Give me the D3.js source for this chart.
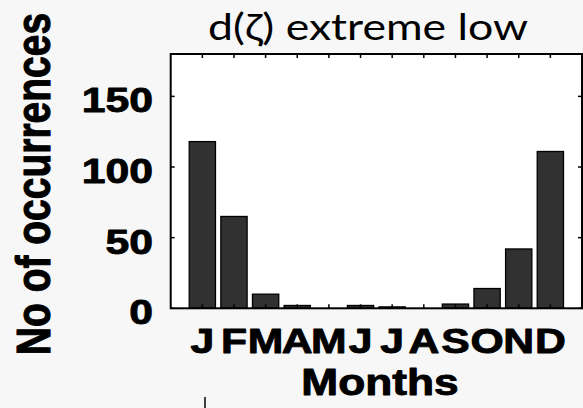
<!DOCTYPE html>
<html>
<head>
<meta charset="utf-8">
<script src="https://cdn.jsdelivr.net/npm/d3@7/dist/d3.min.js"></script>
<style>
  html, body { margin: 0; padding: 0; background: #f7f7f7; }
  svg { display: block; }
</style>
</head>
<body>
<svg id="chart" width="583" height="408"></svg>
<script>
// Monthly counts of extreme-low d(ζ) events
const months = ["J", "F", "M", "A", "M", "J", "J", "A", "S", "O", "N", "D"];
const counts = [118, 65, 10, 2, 0, 2, 1, 0, 3, 14, 42, 111];
const yTicks = [0, 50, 100, 150];
const titleText = "d(ζ) extreme low";
const xLabel = "Months";
const yLabel = "No of occurrences";

const W = 583, H = 408;
const box = { left: 170.7, right: 582, top: 54, bottom: 308.3 };
const stretch = 1.22;          // horizontal widening of the axis lettering
const labelFont = "'Liberation Sans', Arial, Helvetica, sans-serif";
const heavy = 0.9;             // outline that thickens the bold lettering

const svg = d3.select("#chart");

const x = d3.scaleLinear().domain([0, 13]).range([box.left, box.right]);
const y = d3.scaleLinear().domain([0, 180]).range([box.bottom, box.top]);
const barW = 0.83;

// plot area
svg.append("rect")
  .attr("x", box.left).attr("y", box.top)
  .attr("width", box.right - box.left).attr("height", box.bottom - box.top)
  .attr("fill", "#ffffff");

// bars
svg.append("g").selectAll("rect")
  .data(counts.map((v, i) => ({ m: i + 1, v })).filter(d => d.v > 0))
  .join("rect")
  .attr("x", d => x(d.m - barW / 2))
  .attr("width", d => x(d.m + barW / 2) - x(d.m - barW / 2))
  .attr("y", d => y(d.v))
  .attr("height", d => y(0) - y(d.v))
  .attr("fill", "#313131")
  .attr("stroke", "#000")
  .attr("stroke-width", 1.3);

// inward ticks on all four sides
const tickLen = 4;
const ticks = svg.append("g").attr("stroke", "#000").attr("stroke-width", 1.5);
yTicks.forEach(t => {
  ticks.append("line").attr("x1", box.left).attr("x2", box.left + tickLen)
    .attr("y1", y(t)).attr("y2", y(t));
  ticks.append("line").attr("x1", box.right).attr("x2", box.right - tickLen)
    .attr("y1", y(t)).attr("y2", y(t));
});
months.forEach((m, i) => {
  ticks.append("line").attr("x1", x(i + 1)).attr("x2", x(i + 1))
    .attr("y1", box.bottom).attr("y2", box.bottom - tickLen);
  ticks.append("line").attr("x1", x(i + 1)).attr("x2", x(i + 1))
    .attr("y1", box.top).attr("y2", box.top + tickLen);
});

// axes frame
svg.append("rect")
  .attr("x", box.left).attr("y", box.top)
  .attr("width", box.right - box.left).attr("height", box.bottom - box.top)
  .attr("fill", "none").attr("stroke", "#000").attr("stroke-width", 2);

function boldText(sel, size) {
  return sel
    .attr("font-family", labelFont)
    .attr("font-weight", "bold")
    .attr("font-size", size)
    .attr("fill", "#000")
    .attr("stroke", "#000")
    .attr("stroke-width", heavy)
    .attr("stroke-linejoin", "round");
}

// y tick labels
boldText(svg.append("g").selectAll("text")
  .data(yTicks)
  .join("text")
  .attr("transform", t => `translate(153,${y(t) + 16}) scale(${stretch},1)`)
  .attr("text-anchor", "end"), 35)
  .text(t => t);

// month labels
boldText(svg.append("g").selectAll("text")
  .data(months)
  .join("text")
  .attr("transform", (m, i) => `translate(${x(i + 1)},353.3) scale(${stretch},1)`)
  .attr("text-anchor", "middle"), 35)
  .text(m => m);

// x axis title
boldText(svg.append("text")
  .attr("transform", `translate(380,395) scale(1.23,1)`)
  .attr("text-anchor", "middle"), 36)
  .text(xLabel);

// y axis title
boldText(svg.append("text")
  .attr("transform", `translate(50,184) scale(1.25,1) rotate(-90)`)
  .attr("text-anchor", "middle"), 39)
  .text(yLabel);

// chart title
svg.append("text")
  .attr("x", 208).attr("y", 40)
  .attr("textLength", 320)
  .attr("lengthAdjust", "spacingAndGlyphs")
  .attr("font-family", "Lato, 'Open Sans', sans-serif")
  .attr("font-size", 36)
  .attr("fill", "#000")
  .text(titleText);

// short stroke below the axis title
svg.append("line")
  .attr("x1", 205).attr("x2", 205).attr("y1", 397).attr("y2", H)
  .attr("stroke", "#000").attr("stroke-width", 1.5);
</script>
</body>
</html>
